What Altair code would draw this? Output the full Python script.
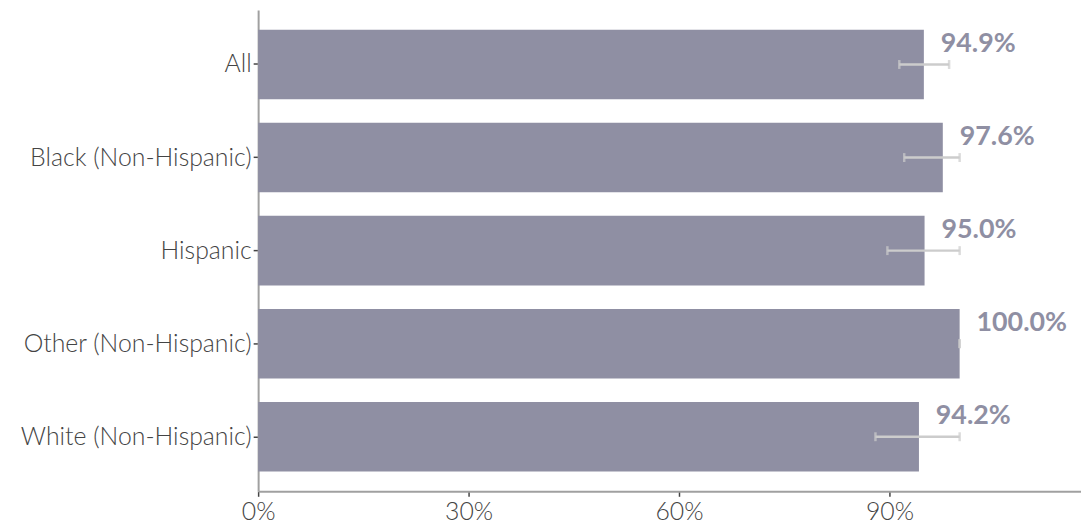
import altair as alt
import pandas as pd

groups = ["All", "Black (Non-Hispanic)", "Hispanic", "Other (Non-Hispanic)", "White (Non-Hispanic)"]
values = [0.949, 0.976, 0.950, 1.000, 0.942]
ci_low = [0.914, 0.921, 0.897, 1.000, 0.880]
ci_high = [0.985, 1.000, 1.000, 1.000, 1.000]

df = pd.DataFrame({"group": groups, "value": values, "lo": ci_low, "hi": ci_high})

FONT = "Lato"
y_enc = alt.Y("group:N", sort=groups, title=None,
              scale=alt.Scale(paddingInner=0.253, paddingOuter=0.213),
              axis=alt.Axis(labelFontSize=25, labelColor="#444444", labelFont=FONT,
                            labelFontWeight=300, tickColor="#444444", tickSize=5,
                            tickWidth=1.5, domainColor="#a0a0a0", domainWidth=2,
                            labelPadding=2, labelLimit=400))
x_scale = alt.Scale(domain=[0, 1.173], nice=False)
x_enc = alt.X("value:Q", scale=x_scale, title=None,
              axis=alt.Axis(format=".0%", values=[0, 0.3, 0.6, 0.9], labelFontSize=25,
                            labelColor="#444444", labelFont=FONT, labelFontWeight=300,
                            tickColor="#444444", tickSize=5, tickWidth=1.5,
                            domainColor="#a0a0a0", domainWidth=2, grid=False,
                            labelPadding=3, labelFlush=False))

bars = alt.Chart(df).mark_bar(color="#8f8fa3").encode(x=x_enc, y=y_enc)

rules = alt.Chart(df).mark_rule(color="#cccccc", strokeWidth=2.5).encode(
    x=alt.X("lo:Q", scale=x_scale), x2="hi:Q", y=alt.Y("group:N", sort=groups))
caps_lo = alt.Chart(df).mark_tick(color="#cccccc", size=9, thickness=2.5, orient="vertical").encode(
    x=alt.X("lo:Q", scale=x_scale), y=alt.Y("group:N", sort=groups))
caps_hi = alt.Chart(df).mark_tick(color="#cccccc", size=9, thickness=2.5, orient="vertical").encode(
    x=alt.X("hi:Q", scale=x_scale), y=alt.Y("group:N", sort=groups))

labels = alt.Chart(df).mark_text(align="left", baseline="middle", dx=17, dy=-21,
                                 fontSize=27, fontWeight="bold", font=FONT,
                                 color="#8f8fa3").encode(
    x=alt.X("value:Q", scale=x_scale), y=alt.Y("group:N", sort=groups),
    text=alt.Text("value:Q", format=".1%"))

chart = alt.layer(bars, rules, caps_lo, caps_hi, labels).properties(
    width=829, height=485,
    padding={"left": 12, "top": 0, "right": 0, "bottom": 0},
    background="white"
).configure_view(stroke=None)

chart.save("out.html", embed_options={"renderer": "svg", "actions": False})
